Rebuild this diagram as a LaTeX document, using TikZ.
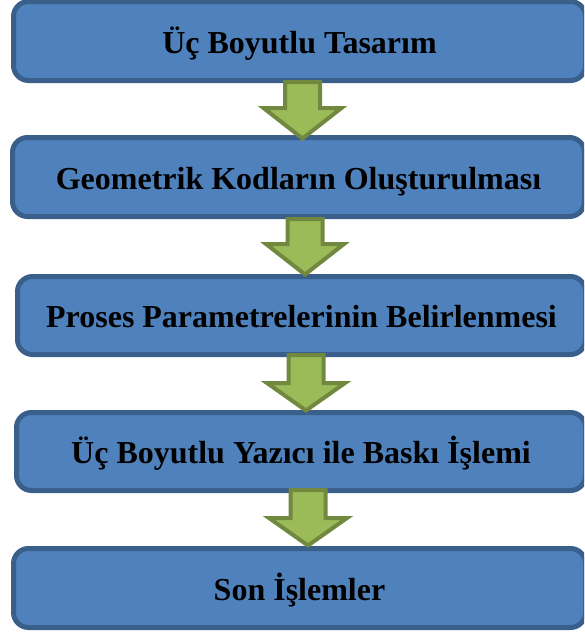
\documentclass[tikz,border=0pt]{standalone}
\usepackage{fontspec}
\setmainfont{Liberation Serif}
\definecolor{boxfill}{HTML}{4F81BD}
\definecolor{boxline}{HTML}{3A5F8B}
\definecolor{arrfill}{HTML}{9BBB59}
\definecolor{arrline}{HTML}{71893F}
\begin{document}
\begin{tikzpicture}[x=1pt,y=-1pt,
  stepbox/.style={draw=boxline, fill=boxfill, line width=5pt, rounded corners=15pt,
    inner sep=0pt, text height=24pt, text depth=0pt,
    font=\fontsize{32}{36}\selectfont\bfseries, text=black},
  blockarrow/.style={draw=arrline, fill=arrfill, line width=4pt, line join=miter}]
\useasboundingbox (0,0) rectangle (584,632);
\begin{scope}
\clip (0,0) rectangle (584,632);
\node[stepbox, minimum width=572pt, minimum height=79pt] (b1) at (299.5,41) {Üç Boyutlu Tasarım};
\node[stepbox, minimum width=572pt, minimum height=79pt] (b2) at (298.5,177) {Geometrik Kodların Oluşturulması};
\node[stepbox, minimum width=568pt, minimum height=78pt] (b3) at (301.5,315.5) {Proses Parametrelerinin Belirlenmesi};
\node[stepbox, minimum width=569pt, minimum height=78pt] (b4) at (301,451.5) {Üç Boyutlu Yazıcı ile Baskı İşlemi};
\node[stepbox, minimum width=572pt, minimum height=79pt] (b5) at (299.5,588) {Son İşlemler};
% block arrows
\foreach \cx/\top/\hs/\tip in {302.5/82/108/138.5, 305/219/244/274.5, 306/355/383/410.5, 308/490/518/545.5}{
  \draw[blockarrow] (\cx-17.5,\top) -- (\cx+17.5,\top) -- (\cx+17.5,\hs) -- (\cx+39,\hs)
    -- (\cx,\tip) -- (\cx-39,\hs) -- (\cx-17.5,\hs) -- cycle;
}
\end{scope}
\end{tikzpicture}
\end{document}
